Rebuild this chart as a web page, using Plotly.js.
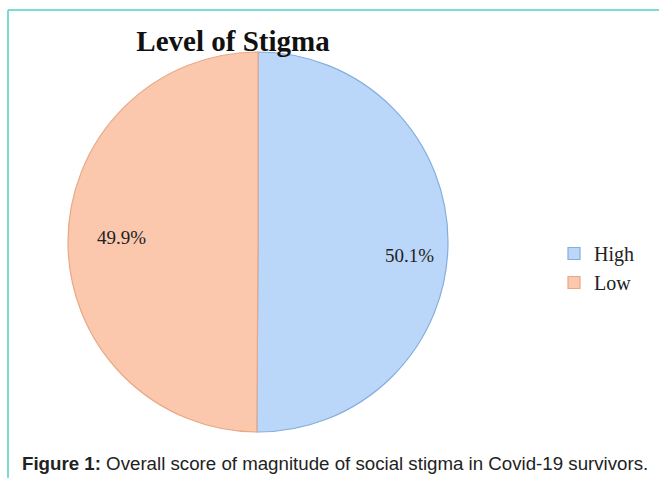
<!DOCTYPE html>
<html>
<head>
<meta charset="utf-8">
<script src="https://cdn.plot.ly/plotly-3.0.1.min.js"></script>
<style>html,body{margin:0;padding:0;background:#fff;}#chart{width:659px;height:478px;}</style>
</head>
<body>
<div id="chart"></div>
<script>
const categories = ["High", "Low"];
const values = [50.1, 49.9];
const sliceColors = ["#bad6f8", "#fbc8ae"];
const edgeColors = ["#86aedc", "#e7a886"];
const labelText = values.map(v => v.toFixed(1) + "%");

const W = 659, H = 478;
const px = x => x / W;
const py = y => 1 - y / H;

const trace = {
  type: "pie",
  labels: categories,
  values: values,
  sort: false,
  direction: "clockwise",
  rotation: 0,
  textinfo: "none",
  hoverinfo: "label+percent",
  marker: { colors: sliceColors, line: { color: edgeColors, width: 1.2 } },
  domain: { x: [px(68), px(448)], y: [py(432), py(52)] }
};

const layout = {
  width: W, height: H,
  margin: { l: 0, r: 0, t: 0, b: 0 },
  paper_bgcolor: "#ffffff",
  showlegend: true,
  legend: {
    x: px(554), y: py(234), xanchor: "left", yanchor: "top",
    font: { family: "Liberation Serif, Times New Roman, serif", size: 20, color: "#222" },
    bgcolor: "rgba(0,0,0,0)"
  },
  title: {
    text: "<b>Level of Stigma</b>",
    x: px(233), xanchor: "center", xref: "paper",
    y: py(41), yanchor: "middle", yref: "container",
    font: { family: "Liberation Serif, Times New Roman, serif", size: 29, color: "#111" }
  },
  annotations: [
    { text: labelText[0], x: px(409), y: py(255), xref: "paper", yref: "paper", showarrow: false,
      font: { family: "Liberation Serif, Times New Roman, serif", size: 19, color: "#222" } },
    { text: labelText[1], x: px(95), y: py(237), xref: "paper", yref: "paper", showarrow: false,
      font: { family: "Liberation Serif, Times New Roman, serif", size: 19, color: "#222" } },
    { text: "<b>Figure 1:</b> Overall score of magnitude of social stigma in Covid-19 survivors.",
      x: px(20), y: py(463), xref: "paper", yref: "paper", xanchor: "left", yanchor: "middle", showarrow: false,
      font: { family: "Liberation Sans, Arial, sans-serif", size: 18.7, color: "#222" } }
  ],
  shapes: [
    { type: "line", xref: "paper", yref: "paper", x0: px(8), x1: 1, y0: py(10), y1: py(10),
      line: { color: "#4fd2c2", width: 1.5 } },
    { type: "line", xref: "paper", yref: "paper", x0: px(8), x1: px(8), y0: py(10), y1: 0,
      line: { color: "#4fd2c2", width: 1.5 } }
  ]
};

Plotly.newPlot("chart", [trace], layout, { displayModeBar: false, staticPlot: true });
</script>
</body>
</html>
